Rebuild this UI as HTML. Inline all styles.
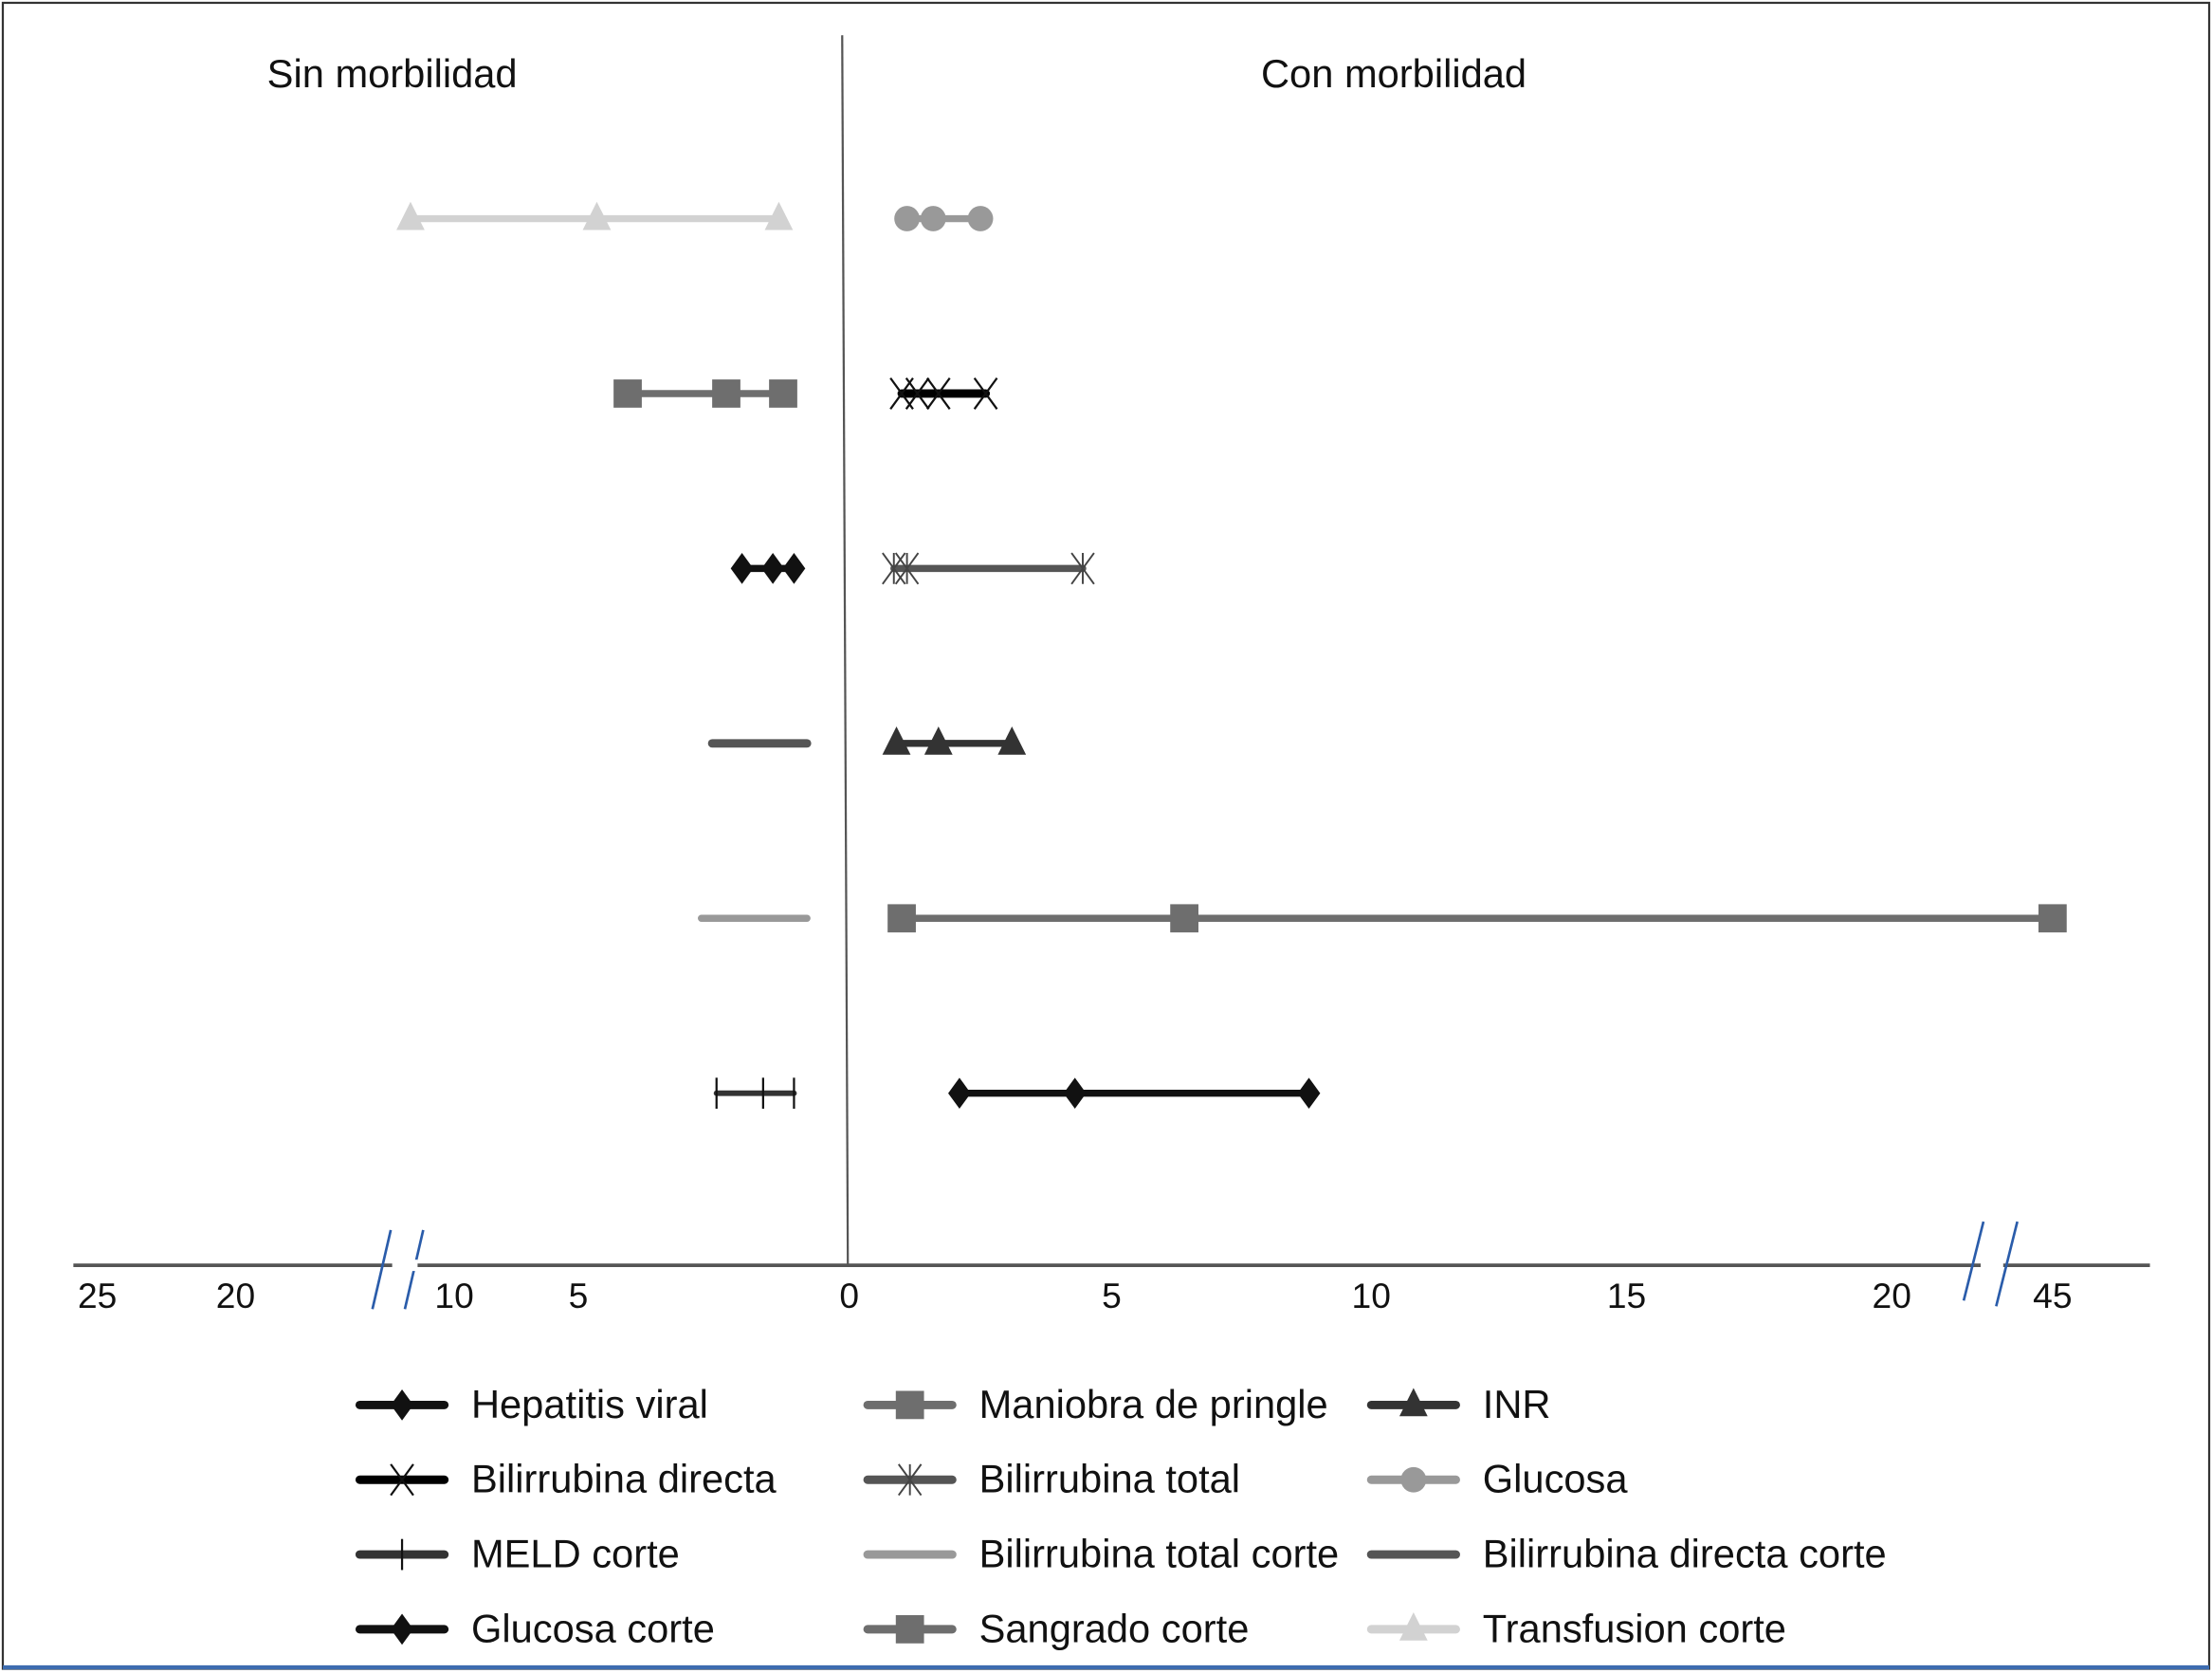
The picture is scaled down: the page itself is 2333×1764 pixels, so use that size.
<!DOCTYPE html>
<html><head><meta charset="utf-8"><style>
html,body{margin:0;padding:0;background:#fff}
svg{display:block}
text{font-family:"Liberation Sans",sans-serif;fill:#111}
</style></head><body>
<svg id="chart" width="2333" height="1764" viewBox="0 0 1568 1186" preserveAspectRatio="none" xmlns="http://www.w3.org/2000/svg">
<rect x="2" y="2" width="1564" height="1181" fill="#fff" stroke="#333" stroke-width="1.5"/>
<line x1="2" y1="1182" x2="1566" y2="1182" stroke="#3d6cb0" stroke-width="3"/>
<text x="278" y="62" font-size="28" text-anchor="middle">Sin morbilidad</text>
<text x="988" y="62" font-size="28" text-anchor="middle">Con morbilidad</text>
<line x1="597" y1="25" x2="601" y2="897" stroke="#555" stroke-width="1.5"/>
<line x1="52" y1="897" x2="1524" y2="897" stroke="#555" stroke-width="2.5"/>
<g stroke="#2a5caa" stroke-width="1.8"><line x1="277" y1="872" x2="264" y2="928"/><line x1="300" y1="872" x2="287" y2="928"/></g>
<rect x="278" y="893" width="18" height="8" fill="#fff"/>
<g stroke="#2a5caa" stroke-width="1.8"><line x1="1406" y1="866" x2="1392" y2="922"/><line x1="1430" y1="866" x2="1415" y2="926"/></g>
<rect x="1404" y="893" width="16" height="8" fill="#fff"/>
<g id="ticks"></g>
<g id="marks"></g>
<g id="legend"></g>
</svg>
<script>
// Axis tick definitions
const leftTickValues = [0, 5, 10, 20, 25];
const rightTickValues = [0, 5, 10, 15, 20, 45];
// Rows (top to bottom)
const rowNames = ["row1","row2","row3","row4","row5","row6"];
// Left side (Sin morbilidad) series
const transfusionCorte = [12.0, 4.66, 1.3];
const maniobraPringle = [4.09, 2.27, 1.22];
const hepatitisViral = [1.98, 1.41, 1.02];
const bilDirectaCorte = [2.53, 1.6, 0.78];
const bilTotalCorte = [2.73, 0.78];
const meldCorte = [2.45, 1.59, 1.02];
// Right side (Con morbilidad) series
const glucosa = [1.1, 1.6, 2.5];
const bilDirecta = [1.0, 1.3, 1.7, 2.6];
const bilTotal = [0.85, 1.1, 4.45];
const inr = [0.9, 1.7, 3.1];
const sangradoCorte = [1.0, 6.4, 45];
const glucosaCorte = [2.1, 4.3, 8.8];

const NS = "http://www.w3.org/2000/svg";
const leftTickPx = [602, 410, 322, 167, 69];
const rightTickPx = [602, 788, 972, 1153, 1341, 1455];
function interp(v, vals, px){
  for(let i=0;i<vals.length-1;i++){
    if(v<=vals[i+1]||i===vals.length-2){
      return px[i]+(v-vals[i])/(vals[i+1]-vals[i])*(px[i+1]-px[i]);
    }
  }
}
const xLeft = v => interp(v, leftTickValues, leftTickPx);
const xRight = v => interp(v, rightTickValues, rightTickPx);
const rowY = i => 155 + i*124;
function el(tag, attrs, parent){const e=document.createElementNS(NS,tag);for(const k in attrs)e.setAttribute(k,attrs[k]);parent.appendChild(e);return e;}

const ticksG=document.getElementById('ticks');
leftTickValues.forEach(v=>{
  const t=el('text',{x:xLeft(v),y:927,'font-size':25,'text-anchor':'middle'},ticksG);
  
  
  t.textContent=v;
});
rightTickValues.slice(1).forEach(v=>{
  const t=el('text',{x:xRight(v),y:927,'font-size':25,'text-anchor':'middle'},ticksG);
  
  
  t.textContent=v;
});

function marker(g,type,x,y,color){
  let m;
  if(type==='diamond') m=el('polygon',{points:`${x},${y-11} ${x+8},${y} ${x},${y+11} ${x-8},${y}`,fill:color},g);
  else if(type==='square') m=el('rect',{x:x-10,y:y-10,width:20,height:20,fill:color},g);
  else if(type==='triangle') m=el('polygon',{points:`${x},${y-12} ${x+10},${y+8} ${x-10},${y+8}`,fill:color},g);
  else if(type==='circle') m=el('circle',{cx:x,cy:y,r:9,fill:color},g);
  else if(type==='x') m=el('path',{d:`M${x-8},${y-11}L${x+8},${y+11}M${x+8},${y-11}L${x-8},${y+11}`,stroke:'#111','stroke-width':1.5,fill:'none'},g);
  else if(type==='star') m=el('path',{d:`M${x-8},${y-11}L${x+8},${y+11}M${x+8},${y-11}L${x-8},${y+11}M${x},${y-11}L${x},${y+11}`,stroke:'#444','stroke-width':1.3,fill:'none'},g);
  else if(type==='plus') m=el('path',{d:`M${x},${y-11}L${x},${y+11}`,stroke:'#111','stroke-width':1.5},g);
  else return;
  
  
}
const marksG=document.getElementById('marks');
function series(name,vals,side,row,color,width,mk){
  const g=el('g',{},marksG);
  
  
  const fx= side==='L'?xLeft:xRight;
  const y=rowY(row);
  const xs=vals.map(fx);
  el('line',{x1:Math.min(...xs),y1:y,x2:Math.max(...xs),y2:y,stroke:color,'stroke-width':width,'stroke-linecap':'round'},g);
  xs.forEach(x=>marker(g,mk,x,y,color));
}
series('transfusion-corte-series',transfusionCorte,'L',0,'#d2d2d2',5,'triangle');
series('maniobra-pringle-series',maniobraPringle,'L',1,'#6e6e6e',5,'square');
series('hepatitis-viral-series',hepatitisViral,'L',2,'#111',5,'diamond');
series('bilirrubina-directa-corte-series',bilDirectaCorte,'L',3,'#555',6,'none');
series('bilirrubina-total-corte-series',bilTotalCorte,'L',4,'#999',5,'none');
series('meld-corte-series',meldCorte,'L',5,'#333',4,'plus');
series('glucosa-series',glucosa,'R',0,'#999',5,'circle');
series('bilirrubina-directa-series',bilDirecta,'R',1,'#000',6,'x');
series('bilirrubina-total-series',bilTotal,'R',2,'#555',5,'star');
series('inr-series',inr,'R',3,'#333',5,'triangle');
series('sangrado-corte-series',sangradoCorte,'R',4,'#6e6e6e',5,'square');
series('glucosa-corte-series',glucosaCorte,'R',5,'#111',5,'diamond');

const legendItems=[
 ['Hepatitis viral','#111','diamond'],['Maniobra de pringle','#6e6e6e','square'],['INR','#333','triangle'],
 ['Bilirrubina directa','#000','x'],['Bilirrubina total','#555','star'],['Glucosa','#999','circle'],
 ['MELD corte','#333','plus'],['Bilirrubina total corte','#999','none'],['Bilirrubina directa corte','#555','none'],
 ['Glucosa corte','#111','diamond'],['Sangrado corte','#6e6e6e','square'],['Transfusion corte','#d2d2d2','triangle']
];
const legG=document.getElementById('legend');
const colX=[255,615,972], rowYL=[996,1049,1102,1155];
legendItems.forEach((it,i)=>{
  const c=i%3, r=Math.floor(i/3);
  const g=el('g',{},legG);
  
  
  const x=colX[c], y=rowYL[r];
  el('line',{x1:x,y1:y,x2:x+60,y2:y,stroke:it[1],'stroke-width':6,'stroke-linecap':'round'},g);
  marker(g,it[2],x+30,y,it[1]);
  const t=el('text',{x:x+79,y:y+9,'font-size':28},g);
  t.textContent=it[0];
});
</script>
</body></html>
